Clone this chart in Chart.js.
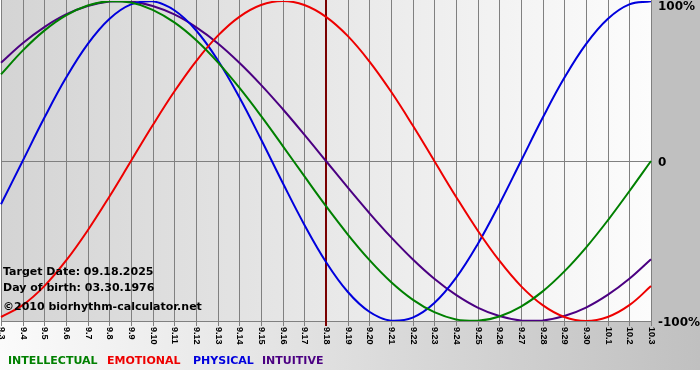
<!DOCTYPE html>
<html>
<head>
<meta charset="utf-8">
<script src="https://cdn.jsdelivr.net/npm/chart.js@4.4.1/dist/chart.umd.min.js"></script>
<style>
    html, body { margin: 0; padding: 0; background: #ffffff; }
    #wrap { width: 700px; height: 380px; }
</style>
</head>
<body>
<div id="wrap"><canvas id="bioChart" width="700" height="380"></canvas></div>
<script>
    'use strict';

    // Days shown (9.3 .. 10.3)
    const days = ['9.3', '9.4', '9.5', '9.6', '9.7', '9.8', '9.9', '9.10', '9.11', '9.12',
        '9.13', '9.14', '9.15', '9.16', '9.17', '9.18', '9.19', '9.20', '9.21', '9.22',
        '9.23', '9.24', '9.25', '9.26', '9.27', '9.28', '9.29', '9.30', '10.1', '10.2', '10.3'];

    // Cycle values in percent, one per day
    const intellectual = [54.1, 69.0, 81.5, 91.0, 97.2, 99.9, 99.0, 94.5, 86.6, 75.6, 61.8, 45.8,
        28.2, 9.5, -9.5, -28.2, -45.8, -61.8, -75.6, -86.6, -94.5, -99.0, -99.9, -97.2, -91.0,
        -81.5, -69.0, -54.1, -37.2, -18.9, 0];
    const emotional = [-97.5, -90.1, -78.2, -62.3, -43.4, -22.3, 0, 22.3, 43.4, 62.3, 78.2, 90.1,
        97.5, 100, 97.5, 90.1, 78.2, 62.3, 43.4, 22.3, 0, -22.3, -43.4, -62.3, -78.2, -90.1,
        -97.5, -100, -97.5, -90.1, -78.2];
    const physical = [-27.0, 0, 27.0, 52.0, 73.1, 88.8, 97.9, 99.8, 94.2, 81.7, 63.1, 39.8, 13.6,
        -13.6, -39.8, -63.1, -81.7, -94.2, -99.8, -97.9, -88.8, -73.1, -52.0, -27.0, 0, 27.0,
        52.0, 73.1, 88.8, 97.9, 99.8];
    const intuitive = [61.4, 73.6, 83.7, 91.6, 96.9, 99.7, 99.7, 96.9, 91.6, 83.7, 73.6, 61.4,
        47.6, 32.5, 16.5, 0, -16.5, -32.5, -47.6, -61.4, -73.6, -83.7, -91.6, -96.9, -99.7,
        -99.7, -96.9, -91.6, -83.7, -73.6, -61.4];

    const seriesNames = ['INTELLECTUAL', 'EMOTIONAL', 'PHYSICAL', 'INTUITIVE'];
    const seriesColors = ['#008000', '#ee0000', '#0000dd', '#4b0082'];
    const legendX = [8, 107, 193, 262];
    const yTicks = [100, 0, -100];
    const yTickLabels = ['100%', '0', '-100%'];
    const targetDay = '9.18';
    const infoLines = ['Target Date: 09.18.2025', 'Day of birth: 03.30.1976'];
    const copyright = '\u00a92010 biorhythm-calculator.net';

    const FONT = '"DejaVu Sans", Verdana, sans-serif';

    // Backgrounds, grid, target line
    const backdrop = {
        id: 'backdrop',
        beforeDraw: function (chart) {
            const ctx = chart.ctx;
            const a = chart.chartArea;
            const W = chart.width;
            ctx.save();
            ctx.fillStyle = '#ffffff';
            ctx.fillRect(0, 0, W, chart.height);

            // right margin
            ctx.fillStyle = '#c0c0c0';
            ctx.fillRect(a.right, 0, W - a.right, 370);

            // bottom band
            let g = ctx.createLinearGradient(0, 0, W, 0);
            g.addColorStop(0, '#fbfbfb');
            g.addColorStop(1, '#c0c0c0');
            ctx.fillStyle = g;
            ctx.fillRect(0, a.bottom, W, 370 - a.bottom);

            // plot area
            g = ctx.createLinearGradient(a.left, 0, a.right, 0);
            g.addColorStop(0, '#d4d4d4');
            g.addColorStop(1, '#fcfcfc');
            ctx.fillStyle = g;
            ctx.fillRect(a.left, a.top - 1, a.right - a.left, a.bottom - a.top + 1);
            ctx.restore();
        },
        beforeDatasetsDraw: function (chart) {
            const ctx = chart.ctx;
            const a = chart.chartArea;
            const xs = chart.scales.x;
            const ys = chart.scales.y;
            ctx.save();
            ctx.strokeStyle = '#808080';
            ctx.lineWidth = 1;
            ctx.beginPath();
            days.forEach(function (d, i) {
                const x = Math.round(xs.getPixelForValue(i)) + 0.5;
                ctx.moveTo(x, a.top - 1);
                ctx.lineTo(x, a.bottom + 5);
            });
            [0, -100].forEach(function (v) {
                const y = Math.round(ys.getPixelForValue(v)) + 0.5;
                ctx.moveTo(a.left, y);
                ctx.lineTo(a.right, y);
            });
            ctx.stroke();

            // target day
            const tx = Math.round(xs.getPixelForValue(days.indexOf(targetDay)));
            ctx.strokeStyle = '#7a0000';
            ctx.lineWidth = 2;
            ctx.beginPath();
            ctx.moveTo(tx, a.top - 1);
            ctx.lineTo(tx, a.bottom + 5);
            ctx.stroke();
            ctx.restore();
        },
        afterDraw: function (chart) {
            const ctx = chart.ctx;
            const a = chart.chartArea;
            const xs = chart.scales.x;
            const ys = chart.scales.y;
            ctx.save();
            ctx.fillStyle = '#000000';

            // day labels, rotated clockwise
            ctx.font = 'bold 9px "Liberation Sans", Arial, sans-serif';
            ctx.textAlign = 'left';
            ctx.textBaseline = 'middle';
            days.forEach(function (d, i) {
                ctx.save();
                ctx.translate(xs.getPixelForValue(i) + 0.5, a.bottom + 6);
                ctx.rotate(Math.PI / 2);
                ctx.fillText(d, 0, 0);
                ctx.restore();
            });

            // percent labels
            ctx.font = 'bold 12px ' + FONT;
            yTicks.forEach(function (v, i) {
                const y = Math.max(ys.getPixelForValue(v) + 2, 7);
                ctx.fillText(yTickLabels[i], a.right + 7, y);
            });

            // info text
            ctx.font = 'bold 11px ' + FONT;
            ctx.fillText(infoLines[0], 3, 272);
            ctx.fillText(infoLines[1], 3, 288);
            ctx.fillText(copyright, 3, 307);

            // legend
            seriesNames.forEach(function (n, i) {
                ctx.fillStyle = seriesColors[i];
                ctx.fillText(n, legendX[i], 361);
            });
            ctx.restore();
        }
    };

    const datasets = [intellectual, emotional, physical, intuitive].map(function (vals, i) {
        return {
            label: seriesNames[i],
            data: vals,
            borderColor: seriesColors[i],
            backgroundColor: seriesColors[i],
            borderWidth: 2,
            pointRadius: 0,
            tension: 0.4,
            fill: false
        };
    });

    new Chart(document.getElementById('bioChart'), {
        type: 'line',
        data: { labels: days, datasets: datasets },
        options: {
            responsive: false,
            animation: false,
            devicePixelRatio: 1,
            layout: { padding: { left: 1, right: 49, top: 1, bottom: 59 } },
            scales: {
                x: { display: false },
                y: { display: false, min: -100, max: 100 }
            },
            plugins: {
                legend: { display: false },
                tooltip: { enabled: false }
            }
        },
        plugins: [backdrop]
    });
</script>
</body>
</html>
